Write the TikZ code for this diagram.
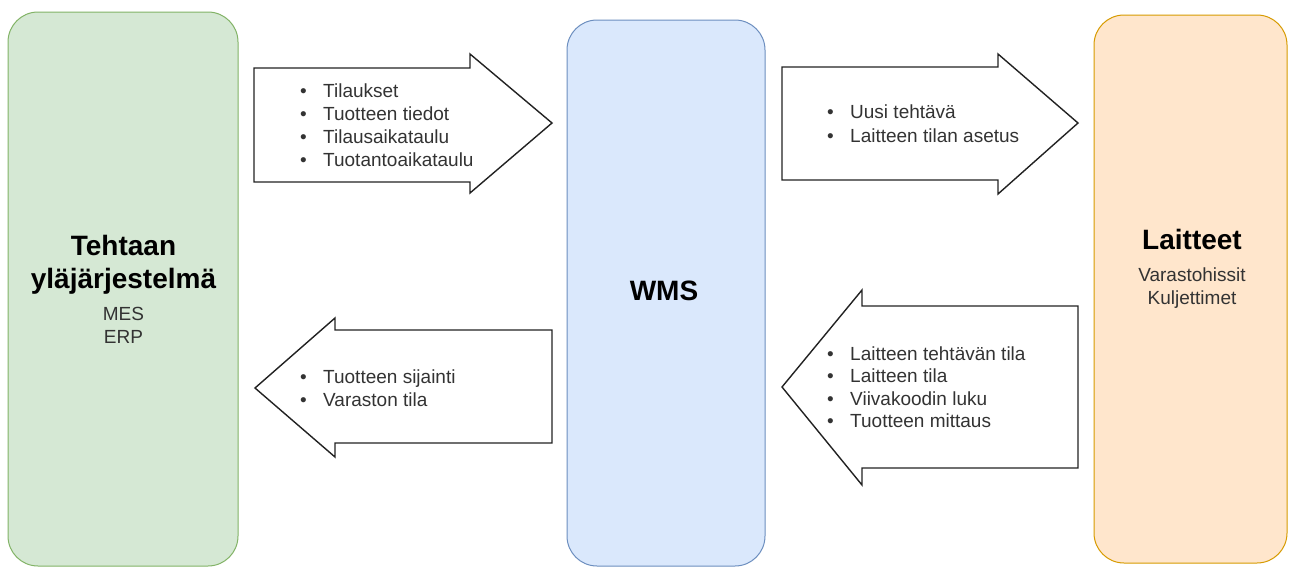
\documentclass[tikz,border=0pt]{standalone}
\usepackage{fontspec}
\setmainfont{Liberation Sans}
\definecolor{gfill}{HTML}{D5E8D4}
\definecolor{gline}{HTML}{82B366}
\definecolor{bfill}{HTML}{DAE8FC}
\definecolor{bline}{HTML}{6C8EBF}
\definecolor{ofill}{HTML}{FFE6CC}
\definecolor{oline}{HTML}{D79B00}
\definecolor{arrowline}{HTML}{222222}
\definecolor{itemtext}{HTML}{333333}
\definecolor{subtext}{HTML}{333333}
\newcommand{\itembul}{\makebox[23pt][l]{\textbullet}}
\begin{document}
\begin{tikzpicture}[x=1pt,y=-1pt,
  sysbox/.style={rounded corners=30pt, line width=1pt, inner sep=0pt},
  blockarrow/.style={draw=arrowline, fill=white, line width=1.4pt, line join=miter},
  title/.style={font=\fontsize{28}{34}\selectfont\bfseries, anchor=base, inner sep=0pt},
  sub/.style={font=\fontsize{19}{23}\selectfont, text=subtext, anchor=base, inner sep=0pt},
  item/.style={font=\fontsize{19}{23}\selectfont, text=itemtext, anchor=base west, inner sep=0pt}]
\useasboundingbox (0,0) rectangle (1291,568);
\fill[white] (0,0) rectangle (1291,568);

% system boxes
\node[sysbox, draw=gline, fill=gfill, minimum width=230pt, minimum height=554pt] (mes) at (123,289) {};
\node[sysbox, draw=bline, fill=bfill, minimum width=198pt, minimum height=546pt] (wms) at (666,293) {};
\node[sysbox, draw=oline, fill=ofill, minimum width=193pt, minimum height=548pt] (dev) at (1190.5,289) {};

% titles
\node[title] (t1a) at (123.5,255) {Tehtaan};
\node[title] (t1b) at (123.5,288) {yläjärjestelmä};
\node[sub] (t1c) at (123.5,320) {MES};
\node[sub] (t1d) at (123.5,343) {ERP};
\node[title] (t2) at (664,300) {WMS};
\node[title] (t3a) at (1192,249) {Laitteet};
\node[sub] (t3b) at (1192,281) {Varastohissit};
\node[sub] (t3c) at (1192,304) {Kuljettimet};

% block arrows
\draw[blockarrow] (254,68) -- (470,68) -- (470,54) -- (552,123) -- (470,193) -- (470,182) -- (254,182) -- cycle;
\draw[blockarrow] (782,67) -- (998,67) -- (998,54) -- (1078,123) -- (998,194) -- (998,180) -- (782,180) -- cycle;
\draw[blockarrow] (552,330) -- (335,330) -- (335,318) -- (255,388) -- (335,457) -- (335,443) -- (552,443) -- cycle;
\draw[blockarrow] (1078,306) -- (862,306) -- (862,290) -- (782,387) -- (862,485) -- (862,468) -- (1078,468) -- cycle;

% bullet lists
\foreach \t [count=\i] in {Tilaukset, Tuotteen tiedot, Tilausaikataulu, Tuotantoaikataulu}
  \node[item] (a1-\i) at (300,{97+23.3*(\i-1)}) {\itembul\t};
\foreach \t [count=\i] in {Uusi tehtävä, Laitteen tilan asetus}
  \node[item] (a2-\i) at (827,{118+24*(\i-1)}) {\itembul\t};
\foreach \t [count=\i] in {Tuotteen sijainti, Varaston tila}
  \node[item] (a3-\i) at (300,{383+23*(\i-1)}) {\itembul\t};
\foreach \t [count=\i] in {Laitteen tehtävän tila, Laitteen tila, Viivakoodin luku, Tuotteen mittaus}
  \node[item] (a4-\i) at (827,{360+22.5*(\i-1)}) {\itembul\t};
\end{tikzpicture}
\end{document}
